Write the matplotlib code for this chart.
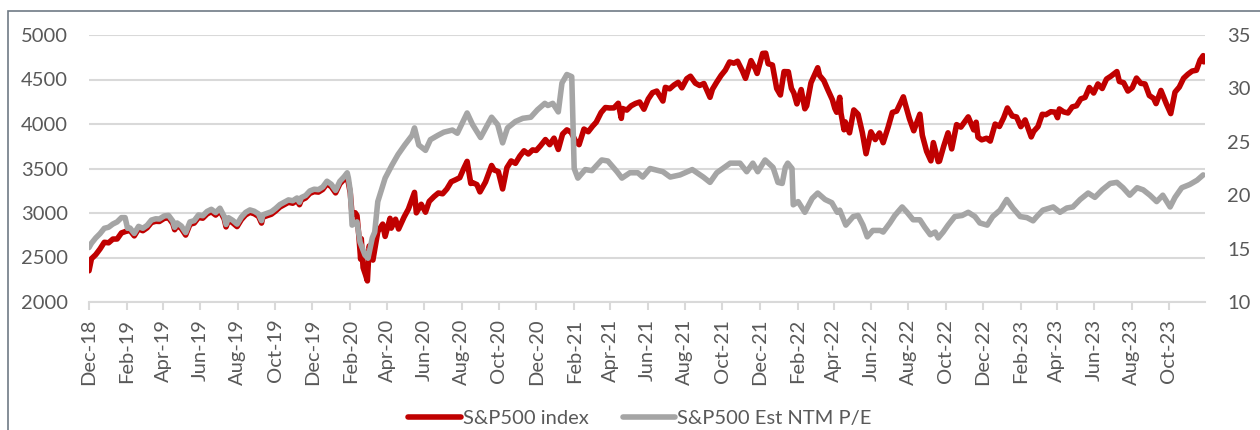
import matplotlib
matplotlib.use('Agg')
import matplotlib.pyplot as plt
import matplotlib.dates as mdates
import pandas as pd
from matplotlib.patches import Rectangle

plt.rcParams['font.family'] = ['Lato', 'DejaVu Sans']

# ---------------- data ----------------
sp_dates = [
 "2018-12-24","2018-12-28","2019-01-04","2019-01-11","2019-01-18","2019-01-25","2019-02-01","2019-02-08","2019-02-15","2019-02-22",
 "2019-03-01","2019-03-08","2019-03-15","2019-03-22","2019-03-29","2019-04-05","2019-04-12","2019-04-18","2019-04-26","2019-05-03",
 "2019-05-10","2019-05-13","2019-05-17","2019-05-24","2019-05-31","2019-06-07","2019-06-14","2019-06-21","2019-06-28","2019-07-05",
 "2019-07-12","2019-07-19","2019-07-26","2019-08-02","2019-08-05","2019-08-09","2019-08-16","2019-08-23","2019-08-30","2019-09-06",
 "2019-09-13","2019-09-20","2019-09-27","2019-10-02","2019-10-04","2019-10-11","2019-10-18","2019-10-25","2019-11-01","2019-11-08",
 "2019-11-15","2019-11-22","2019-11-29","2019-12-03","2019-12-06","2019-12-13","2019-12-20","2019-12-27","2020-01-03","2020-01-10",
 "2020-01-17","2020-01-24","2020-01-31","2020-02-07","2020-02-14","2020-02-19","2020-02-21","2020-02-24","2020-02-27","2020-03-03",
 "2020-03-06","2020-03-09","2020-03-12","2020-03-13","2020-03-16","2020-03-20","2020-03-23","2020-03-26","2020-04-01","2020-04-09",
 "2020-04-17","2020-04-21","2020-04-29","2020-05-01","2020-05-08","2020-05-13","2020-05-22","2020-05-29","2020-06-08","2020-06-11",
 "2020-06-19","2020-06-26","2020-07-02","2020-07-10","2020-07-17","2020-07-24","2020-07-31","2020-08-07","2020-08-14","2020-08-21",
 "2020-08-28","2020-09-02","2020-09-08","2020-09-11","2020-09-18","2020-09-23","2020-10-02","2020-10-12","2020-10-16","2020-10-23",
 "2020-10-30","2020-11-06","2020-11-13","2020-11-20","2020-11-27","2020-12-04","2020-12-11","2020-12-18","2020-12-24","2020-12-31",
 "2021-01-08","2021-01-15","2021-01-22","2021-01-29","2021-02-05","2021-02-12","2021-02-19","2021-02-26","2021-03-04","2021-03-12",
 "2021-03-19","2021-03-26","2021-04-01","2021-04-09","2021-04-16","2021-04-23","2021-04-30","2021-05-07","2021-05-12","2021-05-14",
 "2021-05-21","2021-05-28","2021-06-04","2021-06-11","2021-06-18","2021-06-25","2021-07-02","2021-07-09","2021-07-19","2021-07-23",
 "2021-07-30","2021-08-06","2021-08-13","2021-08-19","2021-08-27","2021-09-02","2021-09-10","2021-09-17","2021-09-24","2021-10-04",
 "2021-10-08","2021-10-15","2021-10-22","2021-10-29","2021-11-05","2021-11-12","2021-11-18","2021-11-26","2021-12-01","2021-12-10",
 "2021-12-17","2021-12-20","2021-12-29","2022-01-03","2022-01-07","2022-01-14","2022-01-21","2022-01-27","2022-02-02","2022-02-09",
 "2022-02-14","2022-02-18","2022-02-23","2022-03-02","2022-03-08","2022-03-11","2022-03-18","2022-03-29","2022-04-01","2022-04-08",
 "2022-04-14","2022-04-22","2022-04-26","2022-04-29","2022-05-04","2022-05-06","2022-05-11","2022-05-13","2022-05-20","2022-05-27",
 "2022-06-03","2022-06-10","2022-06-16","2022-06-24","2022-07-01","2022-07-08","2022-07-14","2022-07-22","2022-07-29","2022-08-05",
 "2022-08-16","2022-08-19","2022-08-26","2022-09-02","2022-09-12","2022-09-16","2022-09-23","2022-09-30","2022-10-04","2022-10-12",
 "2022-10-14","2022-10-21","2022-10-28","2022-11-03","2022-11-11","2022-11-18","2022-11-30","2022-12-09","2022-12-13","2022-12-16",
 "2022-12-22","2022-12-30","2023-01-05","2023-01-13","2023-01-20","2023-01-27","2023-02-02","2023-02-10","2023-02-17","2023-02-24",
 "2023-03-03","2023-03-13","2023-03-17","2023-03-24","2023-03-31","2023-04-06","2023-04-14","2023-04-21","2023-04-25","2023-04-28",
 "2023-05-05","2023-05-12","2023-05-19","2023-05-26","2023-06-02","2023-06-09","2023-06-16","2023-06-23","2023-06-30","2023-07-07",
 "2023-07-14","2023-07-21","2023-07-31","2023-08-04","2023-08-11","2023-08-18","2023-08-25","2023-09-01","2023-09-08","2023-09-15",
 "2023-09-22","2023-09-29","2023-10-03","2023-10-11","2023-10-20","2023-10-27","2023-11-03","2023-11-10","2023-11-17","2023-11-24",
 "2023-12-01","2023-12-08","2023-12-14","2023-12-19","2023-12-20","2023-12-22",
]
sp_values = [
 2351,2486,2532,2596,2671,2665,2707,2708,2776,2793,
 2804,2743,2822,2801,2834,2893,2907,2905,2940,2946,
 2881,2812,2860,2826,2752,2873,2887,2950,2942,2990,
 3014,2977,3026,2932,2844,2919,2889,2847,2926,2979,
 3007,2992,2962,2887,2952,2970,2986,3023,3067,3093,
 3120,3110,3141,3093,3146,3169,3221,3240,3235,3265,
 3330,3295,3226,3328,3380,3386,3338,3226,2979,3003,
 2972,2747,2481,2711,2386,2305,2237,2630,2471,2790,
 2875,2737,2940,2830,2930,2820,2955,3044,3232,3002,
 3098,3009,3130,3185,3225,3216,3271,3351,3373,3397,
 3508,3580,3332,3341,3319,3237,3348,3534,3484,3465,
 3270,3509,3585,3558,3638,3699,3663,3709,3703,3756,
 3825,3768,3841,3714,3887,3934,3907,3811,3768,3943,
 3913,3975,4020,4129,4185,4180,4181,4233,4063,4174,
 4156,4204,4230,4247,4166,4281,4352,4370,4258,4412,
 4395,4437,4468,4406,4509,4537,4459,4433,4455,4300,
 4391,4471,4545,4605,4697,4683,4705,4595,4513,4712,
 4620,4568,4793,4796,4677,4663,4398,4326,4589,4587,
 4401,4349,4226,4387,4171,4204,4463,4632,4546,4488,
 4393,4272,4175,4132,4300,4123,3935,4024,3901,4158,
 4109,3901,3666,3912,3825,3899,3790,3962,4130,4145,
 4305,4228,4058,3924,4110,3873,3693,3586,3791,3577,
 3583,3752,3901,3720,3993,3965,4080,3934,4020,3852,
 3822,3840,3808,3999,3972,4071,4180,4090,4079,3970,
 4046,3855,3917,3971,4109,4105,4138,4133,4071,4169,
 4136,4124,4192,4205,4282,4299,4410,4348,4450,4399,
 4505,4536,4589,4478,4464,4370,4406,4516,4457,4450,
 4320,4288,4229,4377,4224,4117,4358,4415,4514,4559,
 4595,4604,4719,4768,4698,4755,
]

pe_dates = [
 "2018-12-24","2018-12-28","2019-01-04","2019-01-11","2019-01-18","2019-01-25","2019-02-01","2019-02-08","2019-02-15","2019-02-21",
 "2019-02-25","2019-03-01","2019-03-08","2019-03-15","2019-03-22","2019-03-29","2019-04-05","2019-04-12","2019-04-18","2019-04-26",
 "2019-05-03","2019-05-10","2019-05-13","2019-05-17","2019-05-24","2019-05-31","2019-06-07","2019-06-14","2019-06-21","2019-06-28",
 "2019-07-05","2019-07-12","2019-07-19","2019-07-26","2019-08-02","2019-08-05","2019-08-09","2019-08-16","2019-08-23","2019-08-30",
 "2019-09-06","2019-09-13","2019-09-20","2019-09-27","2019-10-02","2019-10-04","2019-10-11","2019-10-18","2019-10-25","2019-11-01",
 "2019-11-08","2019-11-15","2019-11-22","2019-11-29","2019-12-03","2019-12-06","2019-12-13","2019-12-20","2019-12-27","2020-01-03",
 "2020-01-10","2020-01-17","2020-01-24","2020-01-31","2020-02-07","2020-02-14","2020-02-19","2020-02-21","2020-02-24","2020-02-27",
 "2020-03-06","2020-03-11","2020-03-19","2020-03-24","2020-03-31","2020-04-04","2020-04-09","2020-04-21","2020-05-02","2020-05-12",
 "2020-05-23","2020-06-04","2020-06-08","2020-06-15","2020-06-26","2020-07-04","2020-07-16","2020-07-26","2020-08-09","2020-08-17",
 "2020-08-27","2020-09-02","2020-09-11","2020-09-24","2020-10-12","2020-10-22","2020-10-30","2020-11-07","2020-11-20","2020-12-02",
 "2020-12-15","2020-12-26","2021-01-07","2021-01-12","2021-01-20","2021-01-29","2021-02-04","2021-02-12","2021-02-20","2021-02-24",
 "2021-03-02","2021-03-14","2021-03-25","2021-04-10","2021-04-20","2021-05-05","2021-05-13","2021-05-26","2021-06-08","2021-06-16",
 "2021-06-28","2021-07-19","2021-07-31","2021-08-16","2021-09-05","2021-09-23","2021-10-04","2021-10-15","2021-11-06","2021-11-22",
 "2021-12-03","2021-12-13","2021-12-21","2022-01-02","2022-01-15","2022-01-23","2022-01-30","2022-02-04","2022-02-08","2022-02-15",
 "2022-02-17","2022-02-25","2022-03-08","2022-03-20","2022-03-29","2022-04-10","2022-04-21","2022-04-30","2022-05-04","2022-05-14",
 "2022-05-26","2022-06-03","2022-06-11","2022-06-18","2022-06-27","2022-07-09","2022-07-14","2022-07-25","2022-08-02","2022-08-14",
 "2022-08-22","2022-09-01","2022-09-12","2022-09-20","2022-09-29","2022-10-07","2022-10-12","2022-10-20","2022-10-28","2022-11-08",
 "2022-11-20","2022-11-30","2022-12-11","2022-12-19","2022-12-31","2023-01-09","2023-01-21","2023-02-01","2023-02-11","2023-02-23",
 "2023-03-06","2023-03-16","2023-03-22","2023-04-01","2023-04-18","2023-04-29","2023-05-10","2023-05-20","2023-06-01","2023-06-14",
 "2023-06-25","2023-07-07","2023-07-20","2023-07-31","2023-08-10","2023-08-21","2023-09-02","2023-09-12","2023-09-23","2023-10-04",
 "2023-10-14","2023-10-26","2023-11-03","2023-11-14","2023-11-27","2023-12-09","2023-12-19",
]
pe_values = [
 15.1,15.5,16.0,16.4,16.9,17.0,17.3,17.5,17.9,17.9,
 16.9,16.93,16.42,17.08,16.90,17.18,17.67,17.79,17.77,18.06,
 18.11,17.57,16.99,17.40,17.11,16.50,17.50,17.62,18.15,18.08,
 18.48,18.68,18.37,18.78,18.00,17.26,17.89,17.64,17.29,17.95,
 18.39,18.62,18.50,18.25,17.62,18.16,18.31,18.45,18.76,19.12,
 19.34,19.56,19.48,19.74,19.34,19.78,19.97,20.40,20.56,20.52,
 20.77,21.31,21.02,20.45,21.30,21.73,22.1,21.6,20.4,17.2,
 17.5,15.6,14.4,14.1,16.0,16.55,19.4,21.6,22.8,23.8,
 24.7,25.6,26.3,24.7,24.2,25.2,25.6,25.9,26.1,25.8,
 27.0,27.7,26.6,25.4,27.3,26.6,24.9,26.3,26.9,27.2,
 27.3,28.0,28.6,28.4,28.6,27.8,30.5,31.3,31.1,22.5,
 21.6,22.4,22.3,23.3,23.2,22.2,21.6,22.1,22.1,21.7,
 22.5,22.2,21.7,21.9,22.4,21.7,21.2,22.1,23.0,23.0,
 22.2,23.0,22.2,23.3,22.6,21.2,21.1,22.6,23.0,22.5,
 19.1,19.4,18.4,19.7,20.2,19.6,19.3,18.4,18.6,17.2,
 18.0,18.1,17.2,16.1,16.7,16.7,16.55,17.4,18.1,18.9,
 18.4,17.7,17.7,17.0,16.3,16.55,16.0,16.55,17.2,18.0,
 18.1,18.4,18.0,17.4,17.2,18.0,18.6,19.6,18.8,18.0,
 17.9,17.6,18.0,18.6,18.9,18.4,18.8,18.9,19.6,20.2,
 19.8,20.5,21.1,21.2,20.7,20.0,20.7,20.5,20.0,19.4,
 20.0,18.9,19.8,20.7,21.0,21.4,21.9,
]

left_ticks = [2000, 2500, 3000, 3500, 4000, 4500, 5000]
right_ticks = [10, 15, 20, 25, 30, 35]
series_labels = ["S&P500 index", "S&P500 Est NTM P/E"]

# ---------------- plot ----------------
W, H = 1260, 430
fig = plt.figure(figsize=(W / 100, H / 100), dpi=100)
fig.patches.append(Rectangle((8 / W, -0.1), 1.2, 1 - 11 / H + 0.1, transform=fig.transFigure,
                             fill=False, edgecolor='#6f7a85', linewidth=1.2))

ax = fig.add_axes([89 / W, 1 - 302 / H, (1205 - 89) / W, 267 / H])
ax2 = ax.twinx()

red = '#C00000'
grey = '#A5A5A5'
txt = '#595959'
grid = '#D9D9D9'

sp_d = pd.to_datetime(sp_dates)
pe_d = pd.to_datetime(pe_dates)
l1, = ax.plot(sp_d, sp_values, color=red, lw=4.0, solid_capstyle='round', solid_joinstyle='round',
              label=series_labels[0])
l2, = ax2.plot(pe_d, pe_values, color=grey, lw=4.0, solid_capstyle='round', solid_joinstyle='round',
               label=series_labels[1])

ax.set_ylim(left_ticks[0], left_ticks[-1])
ax2.set_ylim(right_ticks[0], right_ticks[-1])
ax.set_yticks(left_ticks)
ax2.set_yticks(right_ticks)
ax.set_xlim(pd.Timestamp('2018-12-24'), pd.Timestamp('2023-12-22'))
ax.xaxis.set_major_locator(mdates.MonthLocator(bymonth=[2, 4, 6, 8, 10, 12], bymonthday=24))
ax.xaxis.set_major_formatter(mdates.DateFormatter('%b-%y'))

ax.set_axisbelow(True)
ax.yaxis.grid(True, color=grid, lw=1.5)
for s in ['top', 'left', 'right']:
    ax.spines[s].set_visible(False)
    ax2.spines[s].set_visible(False)
ax2.spines['bottom'].set_visible(False)
ax.spines['bottom'].set_color(grid)
ax.spines['bottom'].set_linewidth(1.5)

fs = 14.5
ax.tick_params(axis='x', length=6, width=1.5, color=grid, labelcolor=txt, labelsize=fs,
               labelrotation=90, pad=6)
ax.tick_params(axis='y', length=0, labelcolor=txt, labelsize=fs, pad=15)
ax2.tick_params(axis='y', length=0, labelcolor=txt, labelsize=fs, pad=16)

fig.legend(handles=[l1, l2], loc='center', bbox_to_anchor=(640 / W, 1 - 418 / H), ncol=2,
           frameon=False, fontsize=fs, labelcolor=txt, handlelength=2.6, handletextpad=0.1,
           columnspacing=1.7)

fig.savefig('out.png', dpi=100)
